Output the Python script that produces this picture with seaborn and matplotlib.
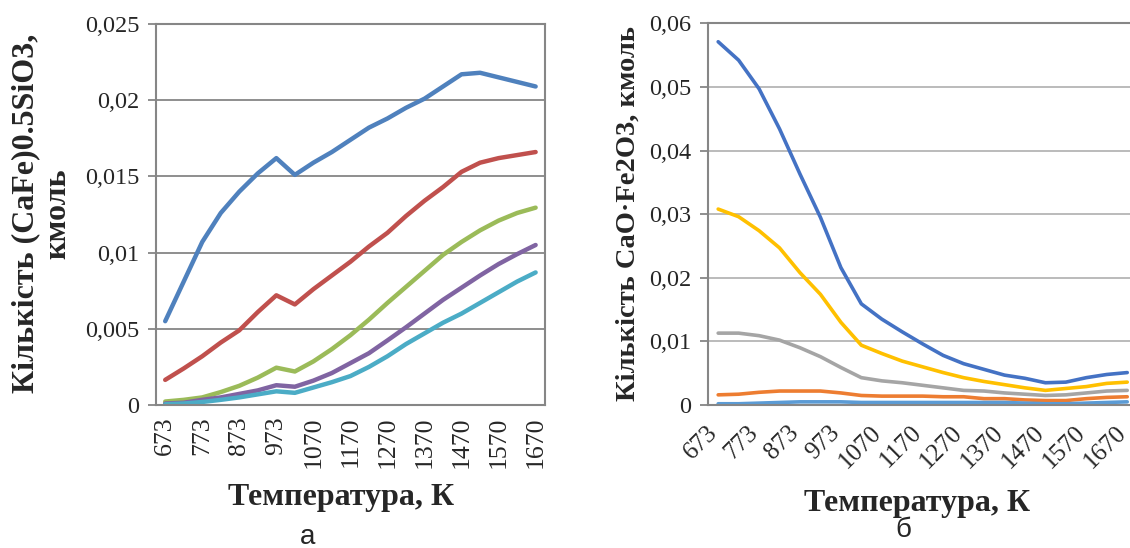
import pandas as pd
import matplotlib
matplotlib.use("Agg")
import matplotlib.pyplot as plt
import matplotlib.transforms as mtransforms
import seaborn as sns
from matplotlib.ticker import FixedLocator, FuncFormatter

# -----------------------------
# 1. Data
# -----------------------------
temps = [673, 723, 773, 823, 873, 923, 973, 1020, 1070, 1120, 1170,
         1220, 1270, 1320, 1370, 1420, 1470, 1520, 1570, 1620, 1670]

# panel а: (CaFe)0.5SiO3
a_blue = [0.0055, 0.0081, 0.0107, 0.0126, 0.0140, 0.0152, 0.0162, 0.0151, 0.0159, 0.0166, 0.0174,
          0.0182, 0.0188, 0.0195, 0.0201, 0.0209, 0.0217, 0.0218, 0.0215, 0.0212, 0.0209]
a_red = [0.00165, 0.0024, 0.0032, 0.0041, 0.0049, 0.0061, 0.0072, 0.0066, 0.0076, 0.0085, 0.0094,
         0.0104, 0.0113, 0.0124, 0.0134, 0.0143, 0.0153, 0.0159, 0.0162, 0.0164, 0.0166]
a_green = [0.00023, 0.00034, 0.0005, 0.00085, 0.00126, 0.0018, 0.00245, 0.0022, 0.00286, 0.00367, 0.00458,
           0.0056, 0.0067, 0.00775, 0.0088, 0.00985, 0.0107, 0.01146, 0.0121, 0.0126, 0.01295]
a_purple = [0.0001, 0.00015, 0.00034, 0.0005, 0.00073, 0.00096, 0.0013, 0.0012, 0.0016, 0.0021, 0.00275,
            0.0034, 0.00424, 0.0051, 0.006, 0.0069, 0.0077, 0.0085, 0.00925, 0.0099, 0.0105]
a_cyan = [0.00005, 0.0001, 0.0002, 0.00034, 0.0005, 0.0007, 0.0009, 0.0008, 0.00115, 0.0015, 0.0019,
          0.0025, 0.0032, 0.0040, 0.0047, 0.0054, 0.0060, 0.0067, 0.0074, 0.0081, 0.0087]

# panel б: CaO·Fe2O3
b_blue = [0.0571, 0.0542, 0.0497, 0.0434, 0.0363, 0.0295, 0.0216, 0.0159, 0.0135, 0.0115, 0.0096,
          0.0078, 0.0065, 0.0056, 0.0047, 0.0042, 0.0035, 0.0036, 0.0043, 0.0048, 0.0051]
b_orange = [0.0016, 0.0017, 0.0020, 0.0022, 0.0022, 0.0022, 0.0019, 0.0015, 0.0014, 0.0014, 0.0014,
            0.0013, 0.0013, 0.0010, 0.0010, 0.0008, 0.0007, 0.0007, 0.0010, 0.0012, 0.0013]
b_gray = [0.0113, 0.0113, 0.0109, 0.0102, 0.0090, 0.0076, 0.0059, 0.0043, 0.0038, 0.0035, 0.0031,
          0.0027, 0.0023, 0.0022, 0.0019, 0.0017, 0.0015, 0.0016, 0.0019, 0.0022, 0.0023]
b_yellow = [0.0308, 0.0296, 0.0274, 0.0247, 0.0208, 0.0174, 0.0130, 0.0094, 0.0081, 0.0069, 0.0060,
            0.0051, 0.0043, 0.0037, 0.0032, 0.0027, 0.0023, 0.0026, 0.0029, 0.0034, 0.0036]
b_lightblue = [0.0002, 0.0002, 0.0003, 0.0004, 0.0005, 0.0005, 0.0005, 0.0004, 0.0004, 0.0004, 0.0004,
               0.0004, 0.0004, 0.0004, 0.0004, 0.0003, 0.0002, 0.0002, 0.0003, 0.0004, 0.0005]

a_series = {"1": a_blue, "2": a_red, "3": a_green, "4": a_purple, "5": a_cyan}
a_colors = {"1": "#4F81BD", "2": "#C0504D", "3": "#9BBB59", "4": "#8064A2", "5": "#4BACC6"}
b_series = {"1": b_blue, "2": b_orange, "3": b_gray, "4": b_yellow, "5": b_lightblue}
b_colors = {"1": "#4472C4", "2": "#ED7D31", "3": "#A5A5A5", "4": "#FFC000", "5": "#5B9BD5"}


def long_form(series):
    rows = []
    for name, vals in series.items():
        for i, v in enumerate(vals):
            rows.append({"idx": i, "value": v, "series": name})
    return pd.DataFrame(rows)


# -----------------------------
# 2. Figure
# -----------------------------
sns.set_style("white")
plt.rcParams["font.family"] = ["Liberation Serif", "DejaVu Serif"]

fig = plt.figure(figsize=(11.3, 5.48), dpi=100)
ax_a = fig.add_axes([0.138, 0.2609, 0.3442, 0.6953])
ax_b = fig.add_axes([0.6265, 0.2609, 0.3801, 0.6966])

comma = FuncFormatter(lambda v, p: "0" if v == 0 else f"{v:g}".replace(".", ","))
n = len(temps)
labels = [str(t) if i % 2 == 0 else "" for i, t in enumerate(temps)]


def style(ax, grid_color, ymax, ystep):
    ax.set_xlim(-0.5, n - 0.5)
    ax.set_ylim(0, ymax)
    ax.set_yticks([k * ystep for k in range(int(round(ymax / ystep)) + 1)])
    ax.yaxis.set_major_formatter(comma)
    ax.set_xticks(range(n))
    ax.set_xticklabels(labels)
    ax.xaxis.set_minor_locator(FixedLocator([i - 0.5 for i in range(n + 1)]))
    ax.grid(axis="y", color=grid_color, linewidth=1.3)
    ax.set_axisbelow(True)
    for s in ax.spines.values():
        s.set_color("#868686")
        s.set_linewidth(1.5)
    ax.tick_params(axis="x", which="major", length=0, labelsize=18.5)
    ax.tick_params(axis="x", which="minor", length=6, width=1.3, color="#868686")
    ax.tick_params(axis="y", which="major", length=6, width=1.3, color="#868686",
                   labelsize=17.5, pad=6, left=True)
    ax.set_xlabel("")
    ax.set_ylabel("")


sns.lineplot(data=long_form(a_series), x="idx", y="value", hue="series", palette=a_colors,
             linewidth=3.2, legend=False, ax=ax_a, estimator=None, sort=False)
style(ax_a, "#868686", 0.025, 0.005)
ax_a.tick_params(axis="x", which="major", labelrotation=90, pad=8)

sns.lineplot(data=long_form(b_series), x="idx", y="value", hue="series", palette=b_colors,
             linewidth=2.6, legend=False, ax=ax_b, estimator=None, sort=False)
style(ax_b, "#B5B5B5", 0.06, 0.01)
ax_b.tick_params(axis="x", which="major", pad=12, labelsize=18)
shift = mtransforms.ScaledTranslation(-12 / 100, 0, fig.dpi_scale_trans)
for lab in ax_b.get_xticklabels():
    lab.set_rotation(45)
    lab.set_ha("right")
    lab.set_va("top")
    lab.set_rotation_mode("anchor")
    lab.set_transform(lab.get_transform() + shift)

# axis titles
fig.text(0.302, 0.093, "Температура, К", fontsize=23, fontweight="bold", ha="center", va="center")
fig.text(0.812, 0.082, "Температура, К", fontsize=23, fontweight="bold", ha="center", va="center")
fig.text(0.037, 0.61, "Кількість (CaFe)0.5SiO3,\nкмоль", fontsize=23, fontweight="bold",
         rotation=90, ha="center", va="center", multialignment="center", linespacing=1.1)
fig.text(0.556, 0.61, "Кількість CaO·Fe2O3, кмоль", fontsize=20.5, fontweight="bold",
         rotation=90, ha="center", va="center")

# panel captions
fig.text(0.272, 0.02, "а", fontsize=20, family="Liberation Sans", ha="center", va="center")
fig.text(0.799, 0.032, "б", fontsize=20, family="Liberation Sans", ha="center", va="center")

fig.savefig("out.png", dpi=100)
